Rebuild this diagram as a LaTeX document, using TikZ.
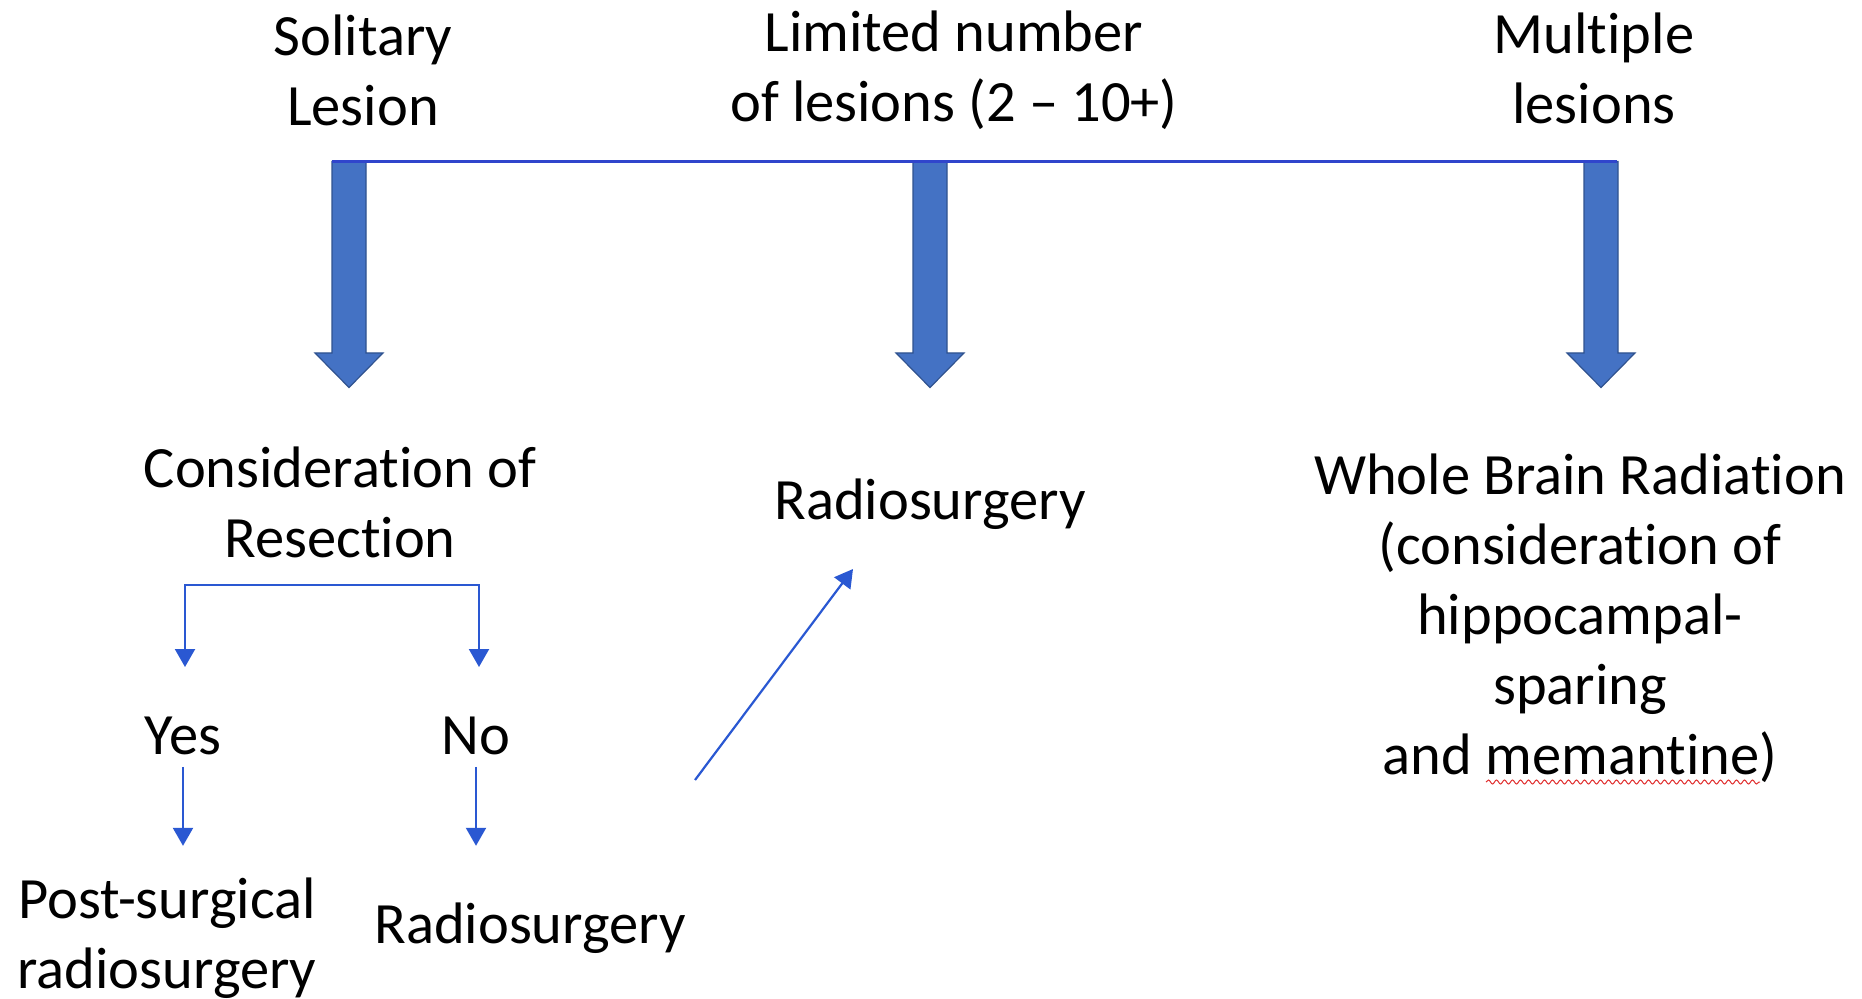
\documentclass[tikz,border=0pt]{standalone}
\usepackage{fontspec}
\setmainfont{Carlito}[RawFeature=-liga]
\usetikzlibrary{arrows.meta,decorations.pathmorphing}
\definecolor{bigfill}{HTML}{4472C4}
\definecolor{bigedge}{HTML}{2F528F}
\definecolor{topline}{HTML}{3045CC}
\definecolor{thinblue}{HTML}{2A58D2}
\definecolor{spellred}{HTML}{E03030}
\begin{document}
\begin{tikzpicture}[x=0.5pt,y=-0.5pt,
  lbl/.style={font=\fontsize{29.25pt}{35pt}\selectfont, align=center, anchor=base, inner sep=0pt},
  bigarrow/.style={fill=bigfill, draw=bigedge, line width=0.6pt, line join=miter},
  thinarrow/.style={draw=thinblue, line width=1.1pt, -{Triangle[width=10pt,length=9pt]}},
  bracket/.style={draw=thinblue, line width=1.1pt, {Triangle[width=10pt,length=9pt]}-{Triangle[width=10pt,length=9pt]}},
  bigarr/.pic={\path[bigarrow] (-17,0) -- (17,0) -- (17,191.5) -- (34,191.5) -- (0,226) -- (-34,191.5) -- (-17,191.5) -- cycle;}
]
\useasboundingbox (0,0) rectangle (1862,999);

% labels (anchor=base is the baseline of the last line)
\node[lbl] (sol) at (363,126) {Solitary\\Lesion};
\node[lbl] (lim) at (954,122) {Limited number\\of lesions (2 – 10+)};
\node[lbl] (mul) at (1594,124) {Multiple\\lesions};
\node[lbl] (cons) at (340,557) {Consideration of\\Resection};
\node[lbl] (rmid) at (930,520) {Radiosurgery};
\node[lbl] (wbr) at (1580,774) {Whole Brain Radiation\\(consideration of\\hippocampal-\\sparing\\and memantine)};
\node[lbl] (yes) at (183,754) {Yes};
\node[lbl] (no) at (476,754) {No};
\node[lbl] (post) at (167,988) {Post-surgical\\radiosurgery};
\node[lbl] (rbot) at (530,943) {Radiosurgery};

% big arrows and top line
\coordinate (lineL) at (332,161.5);
\coordinate (lineR) at (1617,161.5);
\pic at (349,161.5) {bigarr};
\pic at (930,161.5) {bigarr};
\pic at (1601,161.5) {bigarr};
\draw[topline, line width=1.5pt] (lineL) -- (lineR);

% bracket under Consideration of Resection
\coordinate (bl) at (185,585);
\coordinate (br) at (479,585);
\coordinate (ya) at (185,667);
\coordinate (na) at (479,667);
\draw[bracket] (ya) -- (bl) -- (br) -- (na);

% Yes / No arrows
\draw[thinarrow] ([yshift=-6pt]yes.south) -- ++(0,79);
\draw[thinarrow] ([yshift=-6pt]no.south) -- ++(0,79);

% diagonal arrow
\coordinate (dstart) at (695,780);
\coordinate (dend) at (853,569);
\draw[thinarrow] (dstart) -- (dend);

% spell-check squiggle under "memantine"
\coordinate (sqL) at (1486,782);
\coordinate (sqR) at (1760,782);
\draw[spellred, line width=0.5pt, decorate, decoration={snake, amplitude=1pt, segment length=4pt}] (sqL) -- (sqR);
\end{tikzpicture}
\end{document}
